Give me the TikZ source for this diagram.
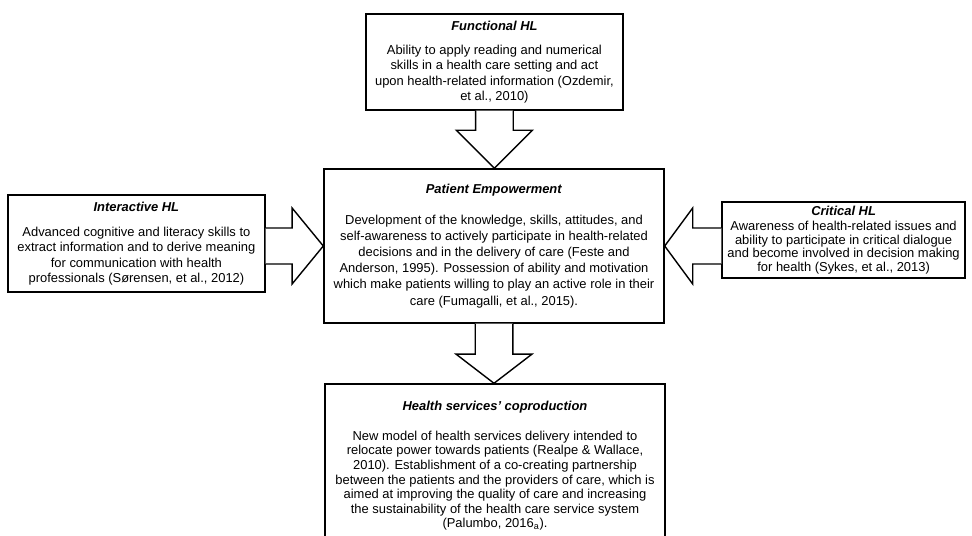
\documentclass[tikz,border=0pt]{standalone}
\usepackage{fontspec}
\setmainfont{Liberation Sans}
\usetikzlibrary{calc}

\begin{document}
\begin{tikzpicture}[
    box/.style={rectangle, draw, line width=1pt, fill=white, align=center, inner sep=2pt},
    blockarr/.style={draw, line width=1pt, fill=white, line join=miter}
]
    \useasboundingbox (0,0) rectangle (24.3,-13.4);
    \clip (0,0) rectangle (24.3,-13.4);

    \node[box, minimum width=6.425cm, minimum height=2.4cm, font=\fontsize{9.2}{11}\selectfont] (func) at (12.36,-1.55)
        {\textbf{\textit{Functional HL}}\\[0.22cm]
         Ability to apply reading and numerical\\
         skills in a health care setting and act\\
         upon health-related information (Ozdemir,\\
         et al., 2010)};
    \node[box, minimum width=8.5cm, minimum height=3.85cm, font=\fontsize{9.2}{11.5}\selectfont] (pe) at (12.35,-6.15)
        {\textbf{\textit{Patient Empowerment}}\\[0.36cm]
         Development of the knowledge, skills, attitudes, and\\
         self-awareness to actively participate in health-related\\
         decisions and in the delivery of care (Feste and\\
         Anderson, 1995). Possession of ability and motivation\\
         which make patients willing to play an active role in their\\
         care (Fumagalli, et al., 2015).};
    \node[box, minimum width=6.425cm, minimum height=2.425cm, font=\fontsize{9.2}{11}\selectfont] (inter) at (3.41,-6.09)
        {\textbf{\textit{Interactive HL}}\\[0.24cm]
         Advanced cognitive and literacy skills to\\
         extract information and to derive meaning\\
         for communication with health\\
         professionals (Sørensen, et al., 2012)};
    \node[box, minimum width=6.075cm, minimum height=1.9cm, font=\fontsize{9.2}{9.7}\selectfont] (crit) at (21.09,-6.0)
        {\textbf{\textit{Critical HL}}\\[0.04cm]
         Awareness of health-related issues and\\
         ability to participate in critical dialogue\\
         and become involved in decision making\\
         for health (Sykes, et al., 2013)};
    \node[box, minimum width=8.5cm, minimum height=4.1cm, font=\fontsize{9.2}{10.4}\selectfont] (hsc) at (12.375,-11.65)
        {\textbf{\textit{Health services' coproduction}}\\[0.37cm]
         New model of health services delivery intended to\\
         relocate power towards patients (Realpe \& Wallace,\\
         2010). Establishment of a co-creating partnership\\
         between the patients and the providers of care, which is\\
         aimed at improving the quality of care and increasing\\
         the sustainability of the health care service system\\
         (Palumbo, 2016\textsubscript{a}).};

    \draw[blockarr] ($(func.south)+(-0.47,0)$) -- ($(func.south |- pe.north)+(-0.47,0.95)$) -- ++(-0.48,0) -- (func.south |- pe.north) -- ($(func.south |- pe.north)+(0.95,0.95)$) -- ++(-0.48,0) -- ($(func.south)+(0.47,0)$);
    \draw[blockarr] ($(inter.east |- pe.west)+(0,0.45)$) -- ($(pe.west)+(-0.78,0.45)$) -- ++(0,0.5) -- (pe.west) -- ($(pe.west)+(-0.78,-0.95)$) -- ++(0,0.5) -- ($(inter.east |- pe.west)+(0,-0.45)$);
    \draw[blockarr] ($(crit.west |- pe.east)+(0,0.45)$) -- ($(pe.east)+(0.7,0.45)$) -- ++(0,0.5) -- (pe.east) -- ($(pe.east)+(0.7,-0.95)$) -- ++(0,0.5) -- ($(crit.west |- pe.east)+(0,-0.45)$);
    \draw[blockarr] ($(pe.south)+(-0.47,0)$) -- ($(pe.south |- hsc.north)+(-0.47,0.73)$) -- ++(-0.48,0) -- (pe.south |- hsc.north) -- ($(pe.south |- hsc.north)+(0.95,0.73)$) -- ++(-0.48,0) -- ($(pe.south)+(0.47,0)$);
\end{tikzpicture}
\end{document}
